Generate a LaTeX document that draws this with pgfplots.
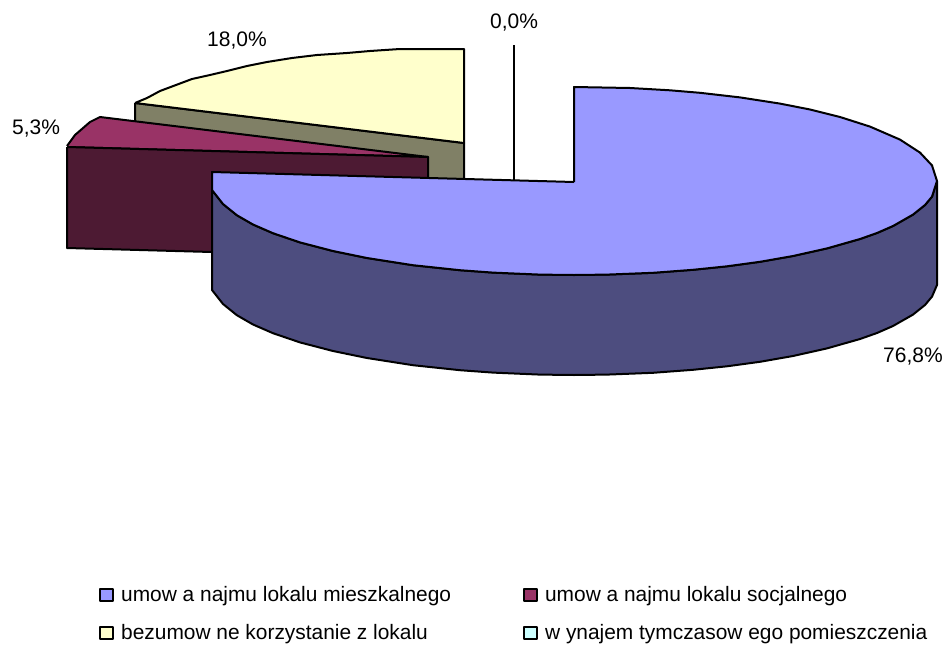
\documentclass[border=0pt]{standalone}
\usepackage{pgfplots}
\pgfplotsset{compat=1.18}
\usepackage{fontspec}
\setmainfont{Liberation Sans}
\definecolor{cblue}{HTML}{9999FF}
\definecolor{cblued}{HTML}{4D4D7F}
\definecolor{cplum}{HTML}{993366}
\definecolor{cplumd}{HTML}{4D1A33}
\definecolor{cyel}{HTML}{FFFFCC}
\definecolor{cyeld}{HTML}{808066}
\definecolor{ccyan}{HTML}{CCFFFF}
\begin{document}
\begin{tikzpicture}
\begin{axis}[
  scale only axis, width=945pt, height=645pt,
  xmin=0, xmax=945, ymin=0, ymax=645, y dir=reverse,
  hide axis, clip=false,
  legend columns=2,
  legend cell align=left,
  legend style={at={(axis cs:99,584.5)}, anchor=north west, draw=none, fill=none,
    font=\fontsize{20.9pt}{24pt}\selectfont, inner sep=0pt,
    row sep=17pt,
    /tikz/every odd column/.append style={column sep=0pt},
    /tikz/every even column/.append style={column sep=65pt},
    nodes={inner xsep=7pt, inner ysep=2pt}},
  legend image code/.code={\draw[#1] (0pt,-6pt) rectangle (13pt,6pt);},
  every axis plot/.append style={line width=2pt, line join=round, no markers, draw=black},
]
\addlegendimage{fill=cblue, draw=black, line width=2pt}
\addlegendentry{umow a najmu lokalu mieszkalnego}
\addlegendimage{fill=cplum, draw=black, line width=2pt}
\addlegendentry{umow a najmu lokalu socjalnego}
\addlegendimage{fill=cyel, draw=black, line width=2pt}
\addlegendentry{bezumow ne korzystanie z lokalu}
\addlegendimage{fill=ccyan, draw=black, line width=2pt}
\addlegendentry{w ynajem tymczasow ego pomieszczenia}

% page extent
\addplot[draw=none, fill=none, forget plot] coordinates {(0,0) (945,645)};

% yellow slice: side then top
\addplot[fill=cyeld, forget plot] coordinates {(135,103) (464,143) (464,243) (135,203) (135,103)};
\addplot[fill=cyel, forget plot] coordinates {(135,103) (147,98) (160,91) (176,85) (192,79) (210,75) (227,71) (247,66) (267,62) (292,58) (317,55) (347,53) (370,51) (400,49) (464,49) (464,143) (135,103)};

% plum slice: top then side
\addplot[fill=cplum, forget plot] coordinates {(67,146) (75,135) (90,122) (100,117) (428,157) (67,147)};
\addplot[fill=cplumd, forget plot] coordinates {(67,147) (428,157) (428,258) (67,248) (67,147)};

% zero slice leader
\addplot[forget plot] coordinates {(514,45) (514,181)};

% blue slice: side then top
\addplot[fill=cblued, forget plot] coordinates {
 (937,181) (932,196.6) (925,205) (913,214.6) (893,226) (877,233) (860,239) (827,248.4) (793,256) (760,261.8) (727,266.3) (693,269.8) (653,272.8) (607,274.6) (574,275) (540,274.6) (493,272.6) (460,270.2) (413,265.2) (367,258) (333,251) (300,242.4) (273,233.2) (253,224.5) (237,215.3) (223,204) (212,190)
 (212,290) (223,304) (237,315.3) (253,324.5) (273,333.2) (300,342.4) (333,351) (367,358) (413,365.2) (460,370.2) (493,372.6) (540,374.6) (574,375) (607,374.6) (653,372.8) (693,369.8) (727,366.3) (760,361.8) (793,356) (827,348.4) (860,339) (877,333) (893,326) (913,314.6) (925,305) (932,296.6) (937,285) (937,181)};
\addplot[fill=cblue, forget plot] coordinates {
 (574,182) (574,87) (630,88) (670,90.3) (700,92.8) (740,97.4) (780,103.6) (810,109.5) (840,117) (870,126.6) (900,139.6) (920,152.6) (932,165.4) (937,181)
 (932,196.6) (925,205) (913,214.6) (893,226) (877,233) (860,239) (827,248.4) (793,256) (760,261.8) (727,266.3) (693,269.8) (653,272.8) (607,274.6) (574,275) (540,274.6) (493,272.6) (460,270.2) (413,265.2) (367,258) (333,251) (300,242.4) (273,233.2) (253,224.5) (237,215.3) (223,204) (212,190)
 (212,172) (574,182)};

\node[anchor=base west, inner sep=0pt, font=\fontsize{21pt}{24pt}\selectfont] at (axis cs:207,46) {18,0\%};
\node[anchor=base west, inner sep=0pt, font=\fontsize{21pt}{24pt}\selectfont] at (axis cs:490,28) {0,0\%};
\node[anchor=base west, inner sep=0pt, font=\fontsize{21pt}{24pt}\selectfont] at (axis cs:12,134) {5,3\%};
\node[anchor=base west, inner sep=0pt, font=\fontsize{21pt}{24pt}\selectfont] at (axis cs:883,362) {76,8\%};
\end{axis}
\end{tikzpicture}
\end{document}
